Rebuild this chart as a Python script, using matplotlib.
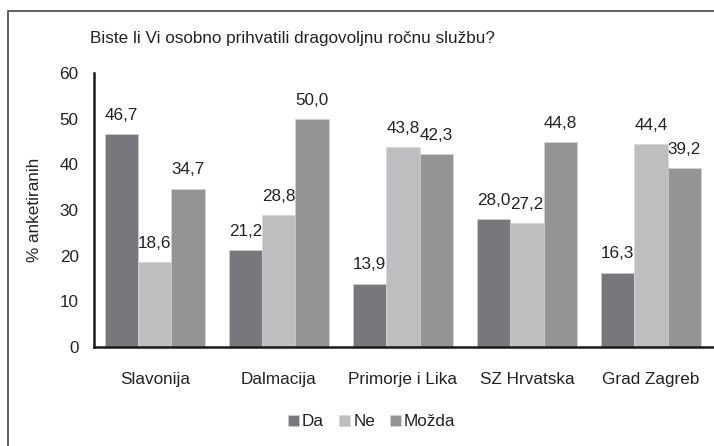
import numpy as np
import matplotlib
matplotlib.use("Agg")
import matplotlib.pyplot as plt
from matplotlib.patches import Rectangle

plt.rcParams['font.family'] = ['Liberation Sans', 'DejaVu Sans']

# data
regions = ["Slavonija", "Dalmacija", "Primorje i Lika", "SZ Hrvatska", "Grad Zagreb"]
series_names = ["Da", "Ne", "Možda"]
da = [46.7, 21.2, 13.9, 28.0, 16.3]
ne = [18.6, 28.8, 43.8, 27.2, 44.4]
mozda = [34.7, 50.0, 42.3, 44.8, 39.2]
yticks = [0, 10, 20, 30, 40, 50, 60]

colors = ["#78787c", "#bebec1", "#949497"]
txt = "#222222"
fs = 12.3

fig = plt.figure(figsize=(7.14, 4.46), dpi=100)
ax = fig.add_axes([94 / 714, 1 - 347 / 446, 619 / 714, 274 / 446])

x = np.arange(len(regions))
w = 0.268
for i, (vals, name) in enumerate(zip([da, ne, mozda], series_names)):
    bars = ax.bar(x + (i - 1) * w, vals, width=w, color=colors[i], label=name,
                  edgecolor="#d4d4d6", linewidth=0.4)
    for b, v in zip(bars, vals):
        ax.annotate(f"{v:.1f}".replace(".", ","),
                    (b.get_x() + b.get_width() / 2, v),
                    xytext=(0, 8), textcoords="offset points",
                    ha="center", va="bottom", fontsize=fs, color=txt)

ax.set_xlim(-0.49, 4.5)
ax.set_ylim(0, 60)
ax.set_yticks(yticks)
ax.set_xticks(x)
ax.set_xticklabels(regions)
ax.tick_params(axis="both", length=0, labelsize=fs, labelcolor=txt)
ax.tick_params(axis="y", pad=11)
ax.tick_params(axis="x", pad=18)
for s in ["top", "right"]:
    ax.spines[s].set_visible(False)
for s in ["left", "bottom"]:
    ax.spines[s].set_linewidth(1.8)
    ax.spines[s].set_color("#1a1a1a")
ax.set_ylabel("% anketiranih", fontsize=fs, color=txt, labelpad=13)

fig.text(90 / 714, 1 - 38 / 446, "Biste li Vi osobno prihvatili dragovoljnu ročnu službu?",
         fontsize=fs, color=txt, ha="left", va="center")

fig.legend(loc="center", bbox_to_anchor=(372 / 714, 1 - 422 / 446), ncol=3,
           frameon=False, fontsize=fs, handlelength=0.6, handleheight=0.6,
           handletextpad=0.2, columnspacing=0.9, labelcolor=txt)

# outer frame (open at right and bottom, cut off by image edge)
fig.patches.append(Rectangle((8 / 714, -0.1), 1.2, 1.1 - 11 / 446,
                             transform=fig.transFigure, fill=False,
                             edgecolor="#444444", linewidth=1.2))

fig.savefig("out.png", dpi=100)
